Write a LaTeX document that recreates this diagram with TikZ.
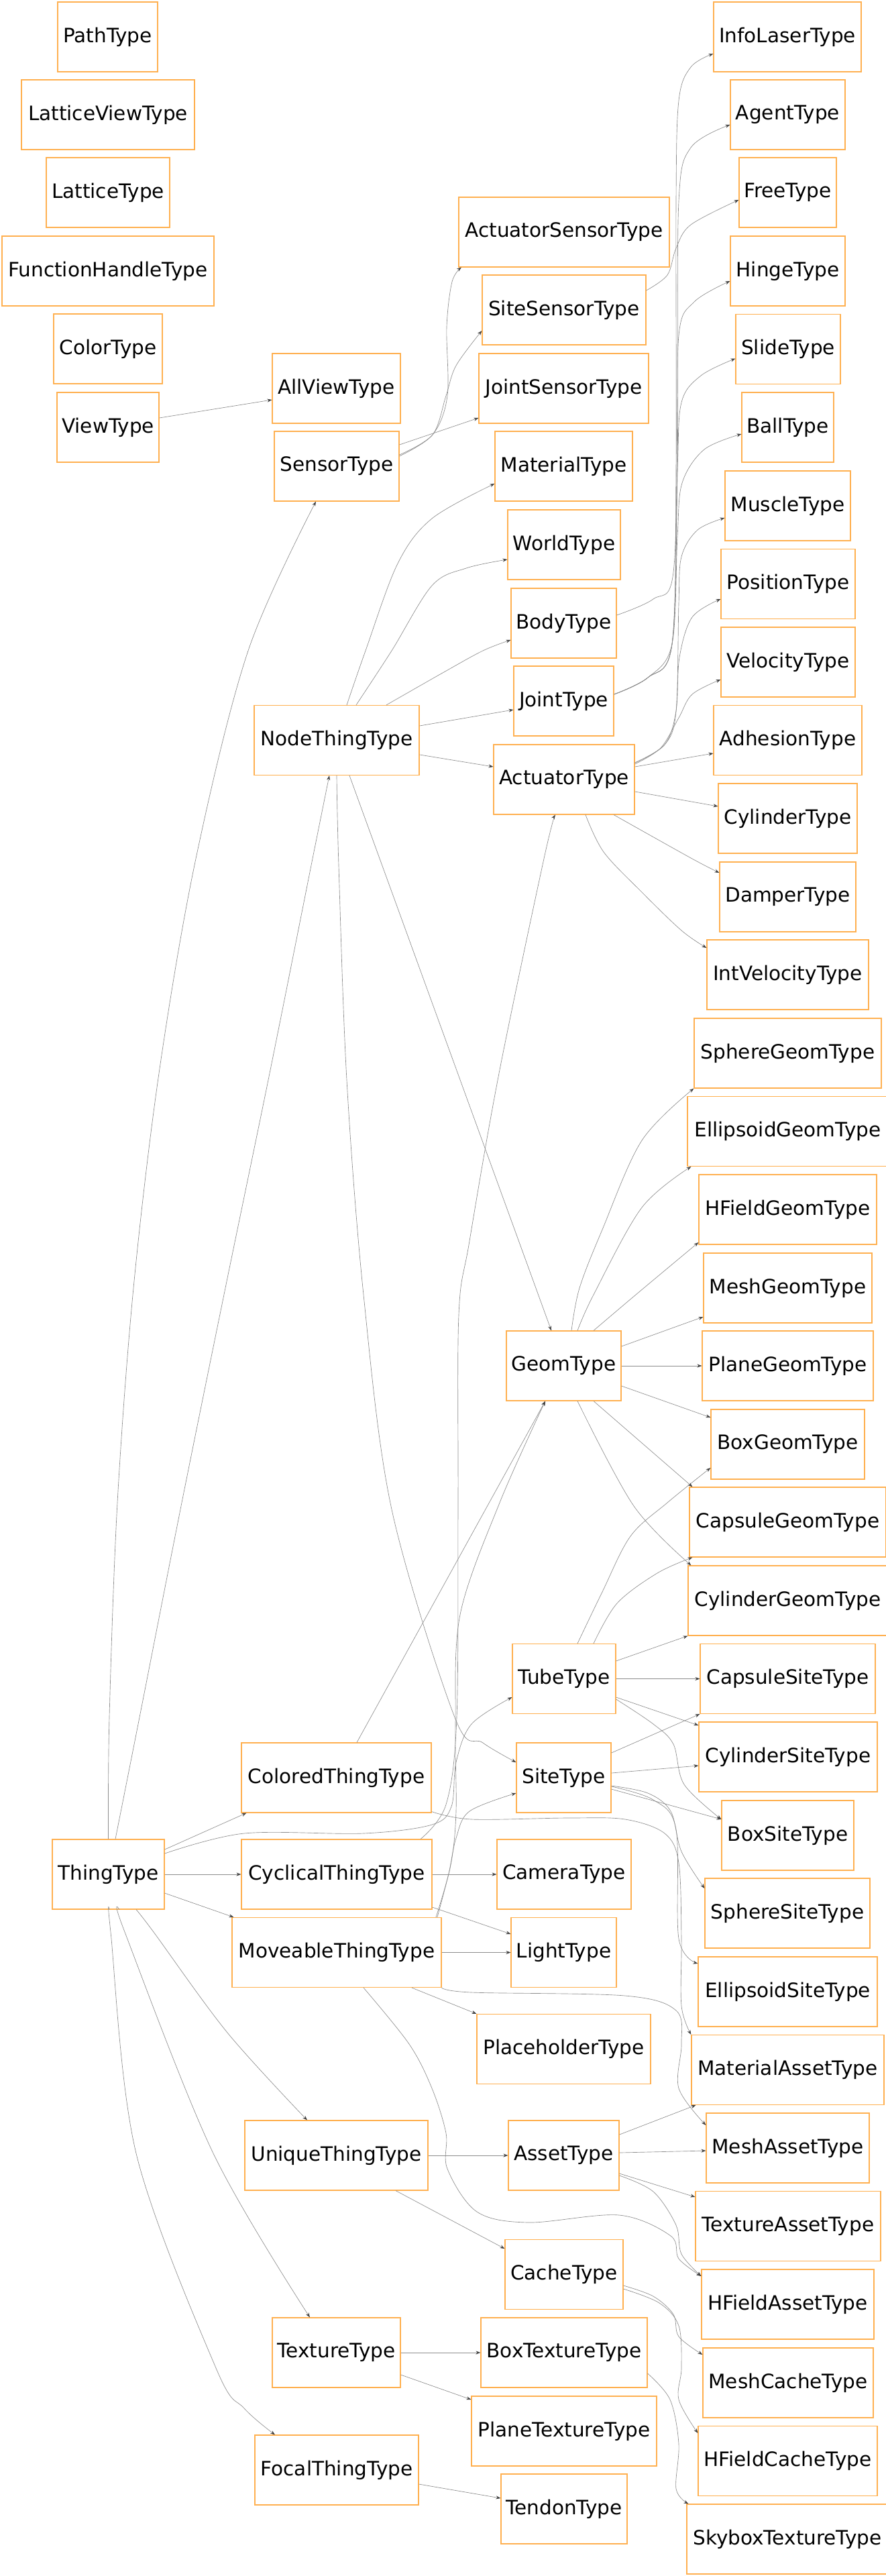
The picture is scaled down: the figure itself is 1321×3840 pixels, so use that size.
\documentclass[tikz,border=0pt]{standalone}
\usepackage{fontspec}
\setmainfont{DejaVu Sans}
\usetikzlibrary{arrows.meta}
\definecolor{boxc}{RGB}{255,176,80}
\definecolor{edgec}{RGB}{140,140,140}
\tikzset{
  tbox/.style={draw=boxc, line width=1.1pt, minimum height=104pt, inner xsep=2pt, inner ysep=0pt, font=\fontsize{29.5pt}{35pt}\selectfont, text=black},
  edge/.style={draw=edgec, line width=0.65pt, -{Stealth[length=7pt,width=5pt,color=black!75]}},
  sm/.style={smooth,tension=0.55}
}
\begin{document}
\begin{tikzpicture}[x=1pt,y=-1pt]
\fill[white] (0,0) rectangle (1321,3840);
\useasboundingbox (0,0) rectangle (1321,3840);
% column 1
\node[tbox,minimum width=149pt] (PathType) at (160.5,55) {PathType};
\node[tbox,minimum width=258pt] (LatticeViewType) at (161,171) {LatticeViewType};
\node[tbox,minimum width=184pt] (LatticeType) at (161,287) {LatticeType};
\node[tbox,minimum width=316pt] (FunctionHandleType) at (161,404) {FunctionHandleType};
\node[tbox,minimum width=162pt] (ColorType) at (161,520) {ColorType};
\node[tbox,minimum width=152pt] (ViewType) at (161,637) {ViewType};
\node[tbox,minimum width=167pt] (ThingType) at (161.5,2794) {ThingType};
% column 2
\node[tbox,minimum width=191pt] (AllViewType) at (501.5,579) {AllViewType};
\node[tbox,minimum width=186pt] (SensorType) at (502,695) {SensorType};
\node[tbox,minimum width=246pt] (NodeThingType) at (502,1103.5) {NodeThingType};
\node[tbox,minimum width=283pt] (ColoredThingType) at (501.5,2650) {ColoredThingType};
\node[tbox,minimum width=284pt] (CyclicalThingType) at (502,2794) {CyclicalThingType};
\node[tbox,minimum width=312pt] (MoveableThingType) at (502,2910.5) {MoveableThingType};
\node[tbox,minimum width=273pt] (UniqueThingType) at (501.5,3213) {UniqueThingType};
\node[tbox,minimum width=191pt] (TextureType) at (501.5,3507) {TextureType};
\node[tbox,minimum width=244pt] (FocalThingType) at (502,3682) {FocalThingType};
% column 3
\node[tbox,minimum width=314pt] (ActuatorSensorType) at (841,346) {ActuatorSensorType};
\node[tbox,minimum width=244pt] (SiteSensorType) at (841,462) {SiteSensorType};
\node[tbox,minimum width=253pt] (JointSensorType) at (840.5,579) {JointSensorType};
\node[tbox,minimum width=205pt] (MaterialType) at (840.5,695) {MaterialType};
\node[tbox,minimum width=168pt] (WorldType) at (841,812) {WorldType};
\node[tbox,minimum width=157pt] (BodyType) at (840.5,929) {BodyType};
\node[tbox,minimum width=149pt] (JointType) at (840.5,1045) {JointType};
\node[tbox,minimum width=210pt] (ActuatorType) at (841,1162) {ActuatorType};
\node[tbox,minimum width=171pt] (GeomType) at (840.5,2036) {GeomType};
\node[tbox,minimum width=154pt] (TubeType) at (841,2502.5) {TubeType};
\node[tbox,minimum width=141pt] (SiteType) at (840.5,2650) {SiteType};
\node[tbox,minimum width=200pt] (CameraType) at (841,2794) {CameraType};
\node[tbox,minimum width=157pt] (LightType) at (840.5,2910.5) {LightType};
\node[tbox,minimum width=259pt] (PlaceholderType) at (840.5,3054.5) {PlaceholderType};
\node[tbox,minimum width=165pt] (AssetType) at (840.5,3213) {AssetType};
\node[tbox,minimum width=176pt] (CacheType) at (841,3390.5) {CacheType};
\node[tbox,minimum width=248pt] (BoxTextureType) at (841,3507) {BoxTextureType};
\node[tbox,minimum width=276pt] (PlaneTextureType) at (841,3624) {PlaneTextureType};
\node[tbox,minimum width=188pt] (TendonType) at (841,3740) {TendonType};
% column 4
\node[tbox,minimum width=220pt] (InfoLaserType) at (1174,55) {InfoLaserType};
\node[tbox,minimum width=171pt] (AgentType) at (1174.5,171) {AgentType};
\node[tbox,minimum width=145pt] (FreeType) at (1174.5,287) {FreeType};
\node[tbox,minimum width=171pt] (HingeType) at (1174.5,404) {HingeType};
\node[tbox,minimum width=156pt] (SlideType) at (1175,520.5) {SlideType};
\node[tbox,minimum width=137pt] (BallType) at (1174.5,637) {BallType};
\node[tbox,minimum width=187pt] (MuscleType) at (1174.5,754) {MuscleType};
\node[tbox,minimum width=200pt] (PositionType) at (1175,870.5) {PositionType};
\node[tbox,minimum width=200pt] (VelocityType) at (1175,987) {VelocityType};
\node[tbox,minimum width=221pt] (AdhesionType) at (1174.5,1103.5) {AdhesionType};
\node[tbox,minimum width=207pt] (CylinderType) at (1174.5,1220) {CylinderType};
\node[tbox,minimum width=203pt] (DamperType) at (1174.5,1337) {DamperType};
\node[tbox,minimum width=241pt] (IntVelocityType) at (1174.5,1453) {IntVelocityType};
\node[tbox,minimum width=279pt] (SphereGeomType) at (1174.5,1570) {SphereGeomType};
\node[tbox,minimum width=299pt] (EllipsoidGeomType) at (1174.5,1686.5) {EllipsoidGeomType};
\node[tbox,minimum width=265pt] (HFieldGeomType) at (1174.5,1803) {HFieldGeomType};
\node[tbox,minimum width=251pt] (MeshGeomType) at (1174.5,1920) {MeshGeomType};
\node[tbox,minimum width=255pt] (PlaneGeomType) at (1174.5,2036) {PlaneGeomType};
\node[tbox,minimum width=229pt] (BoxGeomType) at (1174.5,2153) {BoxGeomType};
\node[tbox,minimum width=293pt] (CapsuleGeomType) at (1174.5,2269) {CapsuleGeomType};
\node[tbox,minimum width=297pt] (CylinderGeomType) at (1174.5,2386) {CylinderGeomType};
\node[tbox,minimum width=261pt] (CapsuleSiteType) at (1174.5,2502.5) {CapsuleSiteType};
\node[tbox,minimum width=266pt] (CylinderSiteType) at (1175,2619) {CylinderSiteType};
\node[tbox,minimum width=197pt] (BoxSiteType) at (1174.5,2736) {BoxSiteType};
\node[tbox,minimum width=246pt] (SphereSiteType) at (1174,2852) {SphereSiteType};
\node[tbox,minimum width=267pt] (EllipsoidSiteType) at (1174.5,2969) {EllipsoidSiteType};
\node[tbox,minimum width=287pt] (MaterialAssetType) at (1174.5,3085.5) {MaterialAssetType};
\node[tbox,minimum width=243pt] (MeshAssetType) at (1174.5,3202) {MeshAssetType};
\node[tbox,minimum width=276pt] (TextureAssetType) at (1175,3318.5) {TextureAssetType};
\node[tbox,minimum width=257pt] (HFieldAssetType) at (1174.5,3435) {HFieldAssetType};
\node[tbox,minimum width=254pt] (MeshCacheType) at (1175,3552) {MeshCacheType};
\node[tbox,minimum width=267pt] (HFieldCacheType) at (1174.5,3668.5) {HFieldCacheType};
\node[tbox,minimum width=300pt] (SkyboxTextureType) at (1174,3785) {SkyboxTextureType};

% ---------- edges ----------
\draw[edge] ([shift={(0,-14)}]ViewType.east) -- ([shift={(0,17)}]AllViewType.west);
\draw[edge] plot[sm] coordinates {(ThingType.north) (163,2560) (175,2240) (199,1920) (237,1600) (292,1280) (370,970) ([shift={(-31,0)}]SensorType.south)};
\draw[edge] plot[sm] coordinates {([shift={(10.5,0)}]ThingType.north) (208,2560) (271,2240) (336,1920) (402,1600) (466,1280) ([shift={(-11,0)}]NodeThingType.south)};
\draw[edge] ([shift={(0,-32)}]SensorType.east) -- ([shift={(0,44)}]JointSensorType.west);
\draw[edge] plot[sm] coordinates {([shift={(0,-17)}]SensorType.east) (645,648) (667,590) (666,487) (674,420) ([shift={(-153,0)}]ActuatorSensorType.south)};
\draw[edge] plot[sm] coordinates {([shift={(0,-15)}]SensorType.east) (645,648) (665,590) (680,545) ([shift={(0,31)}]SiteSensorType.west)};
\draw[edge] plot[sm] coordinates {([shift={(0,-29)}]SiteSensorType.east) (995,410) (1008,370) (1030,335) ([shift={(0,11)}]FreeType.west)};
% top right bundle
\draw[edge] plot[sm] coordinates {([shift={(0,-10)}]JointType.east) (966,1010) (1002,960) (1008,700) (1008,300) (1012,150) (1030,100) ([shift={(0,25)}]InfoLaserType.west)};
\draw[edge] plot[sm] coordinates {([shift={(0,-12)}]BodyType.east) (974,893) (1004,853) (1010,600) (1012,300) (1030,220) ([shift={(0,15)}]AgentType.west)};
\draw[edge] plot[sm] coordinates {([shift={(0,-10)}]JointType.east) (966,1010) (1002,960) (1010,700) (1012,500) (1035,450) ([shift={(0,15)}]HingeType.west)};
\draw[edge] plot[sm] coordinates {([shift={(0,-10)}]JointType.east) (966,1010) (1002,960) (1010,700) (1016,600) (1045,560) ([shift={(0,14)}]SlideType.west)};
\draw[edge] plot[sm] coordinates {([shift={(0,-10)}]JointType.east) (966,1010) (1002,960) (1010,800) (1017,720) (1050,670) ([shift={(0,10)}]BallType.west)};
\draw[edge] plot[sm] coordinates {([shift={(0,-25)}]ActuatorType.east) (991,1110) (1008,1060) (1012,900) (1016,830) (1040,790) ([shift={(0,18)}]MuscleType.west)};
\draw[edge] plot[sm] coordinates {([shift={(0,-25)}]ActuatorType.east) (991,1110) (1008,1060) (1013,980) (1032,920) ([shift={(0,22.5)}]PositionType.west)};
\draw[edge] plot[sm] coordinates {([shift={(0,-23)}]ActuatorType.east) (985,1115) (1012,1070) (1032,1035) ([shift={(0,26)}]VelocityType.west)};
\draw[edge] ([shift={(0,-19)}]ActuatorType.east) -- ([shift={(0,19.5)}]AdhesionType.west);
\draw[edge] ([shift={(0,18)}]ActuatorType.east) -- ([shift={(0,-18)}]CylinderType.west);
\draw[edge] plot[sm] coordinates {([shift={(74,0)}]ActuatorType.south) (1030,1279) ([shift={(0,-36)}]DamperType.west)};
\draw[edge] plot[sm] coordinates {([shift={(32,0)}]ActuatorType.south) (900,1270) (957,1330) (1016,1387) ([shift={(0,-40)}]IntVelocityType.west)};
% NodeThingType
\draw[edge] plot[sm] coordinates {([shift={(15,0)}]NodeThingType.north) (545,970) (593,840) (644,773) ([shift={(0,26)}]MaterialType.west)};
\draw[edge] plot[sm] coordinates {([shift={(29,0)}]NodeThingType.north) (584,970) (644,873) (695,847) ([shift={(0,22)}]WorldType.west)};
\draw[edge] plot[sm] coordinates {([shift={(74,0)}]NodeThingType.north) (660,1003) (720,970) ([shift={(0,25)}]BodyType.west)};
\draw[edge] ([shift={(0,-21.5)}]NodeThingType.east) -- ([shift={(0,13)}]JointType.west);
\draw[edge] ([shift={(0,21.5)}]NodeThingType.east) -- ([shift={(0,-19)}]ActuatorType.west);
\draw[edge] plot[sm] coordinates {(NodeThingType.south) (505,1290) (517,1610) (542,1930) (584,2250) (678,2560) (720,2598) ([shift={(0,-23)}]SiteType.west)};
\draw[edge] ([shift={(19,0)}]NodeThingType.south) -- ([shift={(-18.5,0)}]GeomType.north);
% ThingType
\draw[edge] ([shift={(0,-37)}]ThingType.east) -- ([shift={(8,0)}]ColoredThingType.south west);
\draw[edge] plot[sm] coordinates {([shift={(0,-31)}]ThingType.east) (364,2733) (542,2733) (644,2720) (673,2693) (680,2627) (703,2570) ([shift={(0,27.5)}]TubeType.west)};
\draw[edge] (ThingType.east) -- (CyclicalThingType.west);
\draw[edge] ([shift={(0,28)}]ThingType.east) -- ([shift={(3,0)}]MoveableThingType.north west);
\draw[edge] plot[sm] coordinates {([shift={(41.5,0)}]ThingType.south) (229,2880) (339,3030) ([shift={(-43.5,0)}]UniqueThingType.north)};
\draw[edge] plot[sm] coordinates {([shift={(16.5,0)}]ThingType.south) (186,2880) (318,3210) ([shift={(-39.5,0)}]TextureType.north)};
\draw[edge] plot[sm] coordinates {([shift={(1.5,0)}]ThingType.south) (165,2880) (203,3210) (322,3530) (364,3590) ([shift={(-92,0)}]FocalThingType.north)};
% UniqueThingType
\draw[edge] (UniqueThingType.east) -- (AssetType.west);
\draw[edge] ([shift={(88.5,0)}]UniqueThingType.south) -- ([shift={(0,-38.5)}]CacheType.west);
% MoveableThingType
\draw[edge] (MoveableThingType.east) -- (LightType.west);
\draw[edge] ([shift={(112,0)}]MoveableThingType.south) -- (PlaceholderType.north west);
\draw[edge] plot[sm] coordinates {([shift={(150,0)}]MoveableThingType.north) (669,2793) (680,2740) (700,2700) ([shift={(0,23)}]SiteType.west)};
\draw[edge] plot[sm] coordinates {(MoveableThingType.south east) (703,2970) (932,2975) (1008,2997) (1016,3047) (1012,3113) ([shift={(0,-34)}]MeshAssetType.west)};
\draw[edge] plot[sm] coordinates {([shift={(40,0)}]MoveableThingType.south) (610,3047) (644,3113) (665,3180) (667,3233) (711,3297) (788,3313) (923,3302) (1000,3333) (1012,3367) ([shift={(0,-42)}]HFieldAssetType.west)};
\draw[edge] plot[sm] coordinates {([shift={(148,0)}]MoveableThingType.north) (672,2780) (680,2700) (679,2570) (686,2407) (745,2240) ([shift={(-27.5,0)}]GeomType.south)};
% ColoredThingType
\draw[edge] ([shift={(30.5,0)}]ColoredThingType.north) -- ([shift={(-27.5,0)}]GeomType.south);
\draw[edge] plot[sm] coordinates {([shift={(0,-2)}]ColoredThingType.south east) (703,2712) (847,2710) (932,2712) (991,2733) (1012,2777) (1016,2890) (1016,2990) (MaterialAssetType.north west)};
% CyclicalThingType
\draw[edge] (CyclicalThingType.east) -- (CameraType.west);
\draw[edge] ([shift={(0,49)}]CyclicalThingType.east) -- ([shift={(0,-27.5)}]LightType.west);
\draw[edge] plot[sm] coordinates {([shift={(125,0)}]CyclicalThingType.north) (665,2690) (681,2560) (683,2240) (684,1960) (700,1850) (744,1600) (811,1280) ([shift={(-13,0)}]ActuatorType.south)};
% TubeType
\draw[edge] plot[sm] coordinates {([shift={(44,0)}]TubeType.north) (920,2390) (980,2345) ([shift={(5,0)}]CapsuleGeomType.south west)};
\draw[edge] plot[sm] coordinates {([shift={(20,0)}]TubeType.north) (898,2373) (940,2290) (995,2240) ([shift={(0,35)}]BoxGeomType.west)};
\draw[edge] ([shift={(0,-26.5)}]TubeType.east) -- (CylinderGeomType.south west);
\draw[edge] (TubeType.east) -- (CapsuleSiteType.west);
\draw[edge] ([shift={(0,27.5)}]TubeType.east) -- ([shift={(0,-47)}]CylinderSiteType.west);
\draw[edge] plot[sm] coordinates {([shift={(0,30.5)}]TubeType.east) (974,2570) (1004,2600) (1020,2660) ([shift={(0,-24)}]BoxSiteType.west)};
% GeomType
\draw[edge] plot[sm] coordinates {([shift={(11.5,0)}]GeomType.north) (864,1920) (898,1833) (957,1700) (SphereGeomType.south west)};
\draw[edge] plot[sm] coordinates {([shift={(20.5,0)}]GeomType.north) (885,1930) (957,1800) ([shift={(6,0)}]EllipsoidGeomType.south west)};
\draw[edge] plot[sm] coordinates {([shift={(44.5,0)}]GeomType.north) (948,1930) ([shift={(0,49)}]HFieldGeomType.west)};
\draw[edge] ([shift={(0,-29)}]GeomType.east) -- ([shift={(0,43)}]MeshGeomType.west);
\draw[edge] (GeomType.east) -- (PlaneGeomType.west);
\draw[edge] ([shift={(0,30)}]GeomType.east) -- ([shift={(0,-40)}]BoxGeomType.west);
\draw[edge] ([shift={(44.5,0)}]GeomType.south) -- ([shift={(5,0)}]CapsuleGeomType.north west);
\draw[edge] plot[sm] coordinates {([shift={(20.5,0)}]GeomType.south) (945,2245) ([shift={(5,0)}]CylinderGeomType.north west)};
% SiteType
\draw[edge] ([shift={(0,-37)}]SiteType.east) -- (CapsuleSiteType.south west);
\draw[edge] ([shift={(0,-7)}]SiteType.east) -- ([shift={(0,13)}]CylinderSiteType.west);
\draw[edge] ([shift={(0,17)}]SiteType.east) -- ([shift={(0,-24)}]BoxSiteType.west);
\draw[edge] plot[sm] coordinates {([shift={(0,12)}]SiteType.east) (966,2673) (1000,2700) (1016,2760) ([shift={(0,-37)}]SphereSiteType.west)};
\draw[edge] plot[sm] coordinates {([shift={(0,13)}]SiteType.east) (974,2683) (1008,2727) (1012,2890) ([shift={(0,-42)}]EllipsoidSiteType.west)};
% AssetType
\draw[edge] ([shift={(0,-31)}]AssetType.east) -- ([shift={(7,0)}]MaterialAssetType.south west);
\draw[edge] ([shift={(0,-4)}]AssetType.east) -- ([shift={(0,4)}]MeshAssetType.west);
\draw[edge] ([shift={(0,27)}]AssetType.east) -- ([shift={(0,-43.5)}]TextureAssetType.west);
\draw[edge] plot[sm] coordinates {([shift={(0,30)}]AssetType.east) (974,3267) (1008,3317) (1016,3360) ([shift={(0,-42)}]HFieldAssetType.west)};
% CacheType
\draw[edge] plot[sm] coordinates {([shift={(0,16.5)}]CacheType.east) (974,3423) (1004,3450) (1012,3483) ([shift={(0,-42)}]MeshCacheType.west)};
\draw[edge] plot[sm] coordinates {([shift={(0,21.5)}]CacheType.east) (983,3433) (1012,3467) (1016,3530) (1012,3577) ([shift={(0,-41.5)}]HFieldCacheType.west)};
% TextureType
\draw[edge] (TextureType.east) -- (BoxTextureType.west);
\draw[edge] ([shift={(0,33)}]TextureType.east) -- ([shift={(0,-47)}]PlaneTextureType.west);
\draw[edge] plot[sm] coordinates {([shift={(0,31)}]BoxTextureType.east) (999,3577) (1012,3643) (1008,3710) ([shift={(3,0)}]SkyboxTextureType.north west)};
\draw[edge] ([shift={(0,21)}]FocalThingType.east) -- ([shift={(0,-16)}]TendonType.west);
\end{tikzpicture}
\end{document}
